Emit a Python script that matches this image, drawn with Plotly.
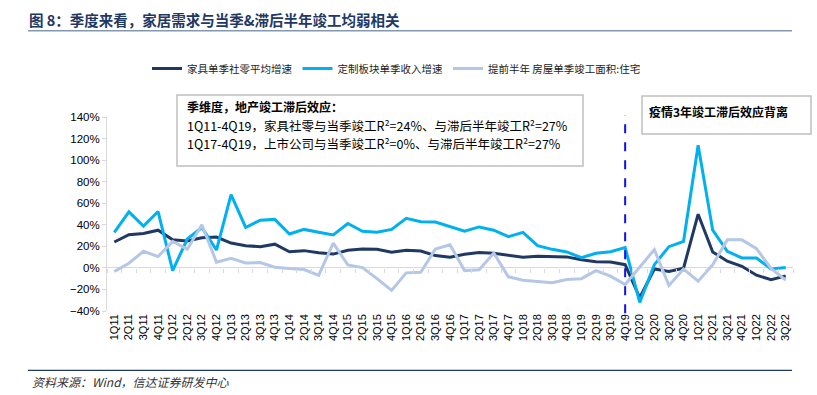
import plotly.graph_objects as go

categories = [f"{q}Q{y}" for y in range(11, 23) for q in range(1, 5)][:47]

furniture_retail = [24, 30.8, 32, 35, 26, 25, 28, 28.6, 23, 20.6, 19.7, 22, 15, 16, 14, 12.8,
                    16.3, 17.5, 17.2, 14.5, 16.3, 15.7, 11.4, 9.8, 12.6, 14.2, 13.5, 11.7, 9.8, 10.8, 10.5, 10.2,
                    7.5, 5.8, 5.5, 3, -27.7, -1, -3.4, -0.3, 49.8, 14.8, 6.2, 1.5, -6.8, -11, -7.4]
custom_revenue = [33, 52, 38.8, 52.3, -2.5, 26.8, 37.5, 16.6, 68, 37.5, 44.3, 45, 31.4, 35.7, 33, 30.5,
                  41.2, 34, 33, 35.7, 46, 42.8, 42.5, 38.5, 34, 38, 35, 29, 33, 20.6, 17.2, 14.8,
                  9.5, 13.5, 15, 18.8, -32, 3, 19.7, 24.6, 113.8, 35, 15.4, 9.2, 9.2, -1, 0.3]
completion_lead = [-3.4, 4.3, 15.4, 10.5, 24.6, 17.2, 40, 5.2, 8.9, 4.6, 4.9, 0.6, -0.6, -1.5, -7, 23,
                   2.8, 0.3, -10, -21, -4.6, -4, 17.5, 21.5, -2.5, -1.8, 13.8, -8.3, -11.4, -12.3, -13.8, -10.8,
                   -10, -2.5, -7.7, -15.4, 0.5, 17, -16.3, -1, -12.3, 3, 26, 26, 17.8, -0.6, -11.4]

series_names = ["家具单季社零平均增速", "定制板块单季收入增速", "提前半年 房屋单季竣工面积:住宅"]
series_colors = ["#1F3864", "#00B0F0", "#B4C7E7"]
y_tickvals = [-40, -20, 0, 20, 40, 60, 80, 100, 120, 140]
y_ticktext = [f"{v}%" if v >= 0 else f"\u2212{abs(v)}%" for v in y_tickvals]
y_range = [-40, 140]
divider_category = "4Q19"

title_text = "图 8：季度来看，家居需求与当季&滞后半年竣工均弱相关"
box1_lines = ["<b>季维度，地产竣工滞后效应：</b>",
              "1Q11-4Q19，家具社零与当季竣工R²=24%、与滞后半年竣工R²=27%",
              "1Q17-4Q19，上市公司与当季竣工R²=0%、与滞后半年竣工R²=27%"]
box2_text = "<b>疫情3年竣工滞后效应背离</b>"
source_text = "资料来源：Wind，信达证券研发中心"

W, H = 817, 395
L, R, T, B = 107, 793, 117, 310.7
PW, PH = R - L, B - T

def px(xp):
    return (xp - L) / PW

def py(yp):
    return (B - yp) / PH

FONT = "Liberation Sans, Arial, Noto Sans CJK SC"
CJK = "Noto Sans CJK SC, Liberation Sans"

fig = go.Figure()
for name, vals, col in zip(series_names, [furniture_retail, custom_revenue, completion_lead], series_colors):
    fig.add_trace(go.Scatter(x=categories, y=vals, mode="lines", name=name,
                             line=dict(color=col, width=3)))

zero_pos = (0 - y_range[0]) / (y_range[1] - y_range[0])

fig.update_layout(
    width=W, height=H,
    margin=dict(l=L, r=W - R, t=T, b=H - B),
    paper_bgcolor="white", plot_bgcolor="white",
    font=dict(family=FONT, color="#000000", size=12),
    showlegend=True,
    legend=dict(orientation="h", xref="container", yref="container",
                x=147 / W, y=1 - 54 / H, xanchor="left", yanchor="top",
                font=dict(family=CJK, size=10.5, color="#222222"),
                itemwidth=30, bgcolor="rgba(0,0,0,0)"),
    xaxis=dict(type="category", range=[-0.5, len(categories) - 0.5],
               showgrid=False, showline=False, ticks="", tickangle=-90,
               tickfont=dict(size=11, color="#000000"), zeroline=False, automargin=False),
    xaxis2=dict(overlaying="x", anchor="free", position=zero_pos, type="linear",
                range=[-0.5, len(categories) - 0.5],
                tickvals=[i - 0.5 for i in range(len(categories) + 1)],
                ticks="outside", ticklen=4, tickcolor="#D9D9D9", tickwidth=1,
                showticklabels=False, showgrid=False, showline=False, zeroline=False),
    yaxis=dict(range=y_range, tickmode="array", tickvals=y_tickvals, ticktext=y_ticktext,
               showgrid=False, showline=True, linecolor="#D9D9D9", linewidth=1,
               ticks="outside", ticklen=4, tickcolor="#D9D9D9", automargin=False,
               zeroline=True, zerolinecolor="#D9D9D9", zerolinewidth=1,
               tickfont=dict(size=11.5, color="#000000")),
)
# invisible helper trace so the tick axis at the zero line is drawn
fig.add_trace(go.Scatter(x=[0], y=[0], xaxis="x2", mode="markers",
                         marker=dict(opacity=0), showlegend=False, hoverinfo="skip"))

shapes = []
shapes.append(dict(type="line", xref="x", yref="paper", x0=divider_category, x1=divider_category,
                   y0=py(313), y1=py(115), line=dict(color="#1010F0", width=2, dash="dash")))
shapes.append(dict(type="rect", xref="paper", yref="paper", x0=px(177), x1=px(583), y0=py(166), y1=py(95),
                   line=dict(color="#BFBFBF", width=1.5), fillcolor="white", layer="below"))
shapes.append(dict(type="rect", xref="paper", yref="paper", x0=px(642), x1=px(811), y0=py(134), y1=py(96),
                   line=dict(color="#BFBFBF", width=1.5), fillcolor="white", layer="below"))
shapes.append(dict(type="line", xref="paper", yref="paper", x0=px(28), x1=px(792), y0=py(31), y1=py(31),
                   line=dict(color="#8497B0", width=1.5)))
shapes.append(dict(type="line", xref="paper", yref="paper", x0=px(28), x1=px(792), y0=py(370), y1=py(370),
                   line=dict(color="#1F3864", width=1.2)))
fig.update_layout(shapes=shapes)

ann = []
ann.append(dict(text=f"<b>{title_text}</b>", xref="paper", yref="paper", x=px(27), y=py(20),
                xanchor="left", yanchor="middle", showarrow=False,
                font=dict(family=CJK, size=14.5, color="#1F3864")))
box1_sizes = [12, 12.5, 12.5]
for i, line in enumerate(box1_lines):
    ann.append(dict(text=line, xref="paper", yref="paper", x=px(185), y=py(107 + 18 * i),
                    xanchor="left", yanchor="middle", showarrow=False,
                    font=dict(family=CJK, size=box1_sizes[i], color="#000000")))
ann.append(dict(text=box2_text, xref="paper", yref="paper", x=px(647), y=py(112),
                xanchor="left", yanchor="middle", showarrow=False,
                font=dict(family=CJK, size=12, color="#000000")))
ann.append(dict(text=f"<i>{source_text}</i>", xref="paper", yref="paper", x=px(30), y=py(381),
                xanchor="left", yanchor="middle", showarrow=False,
                font=dict(family=CJK, size=12, color="#333333")))
fig.update_layout(annotations=ann)

fig.write_html("out.html", config={"displayModeBar": False},
               post_script="document.body.style.margin='0px';")
